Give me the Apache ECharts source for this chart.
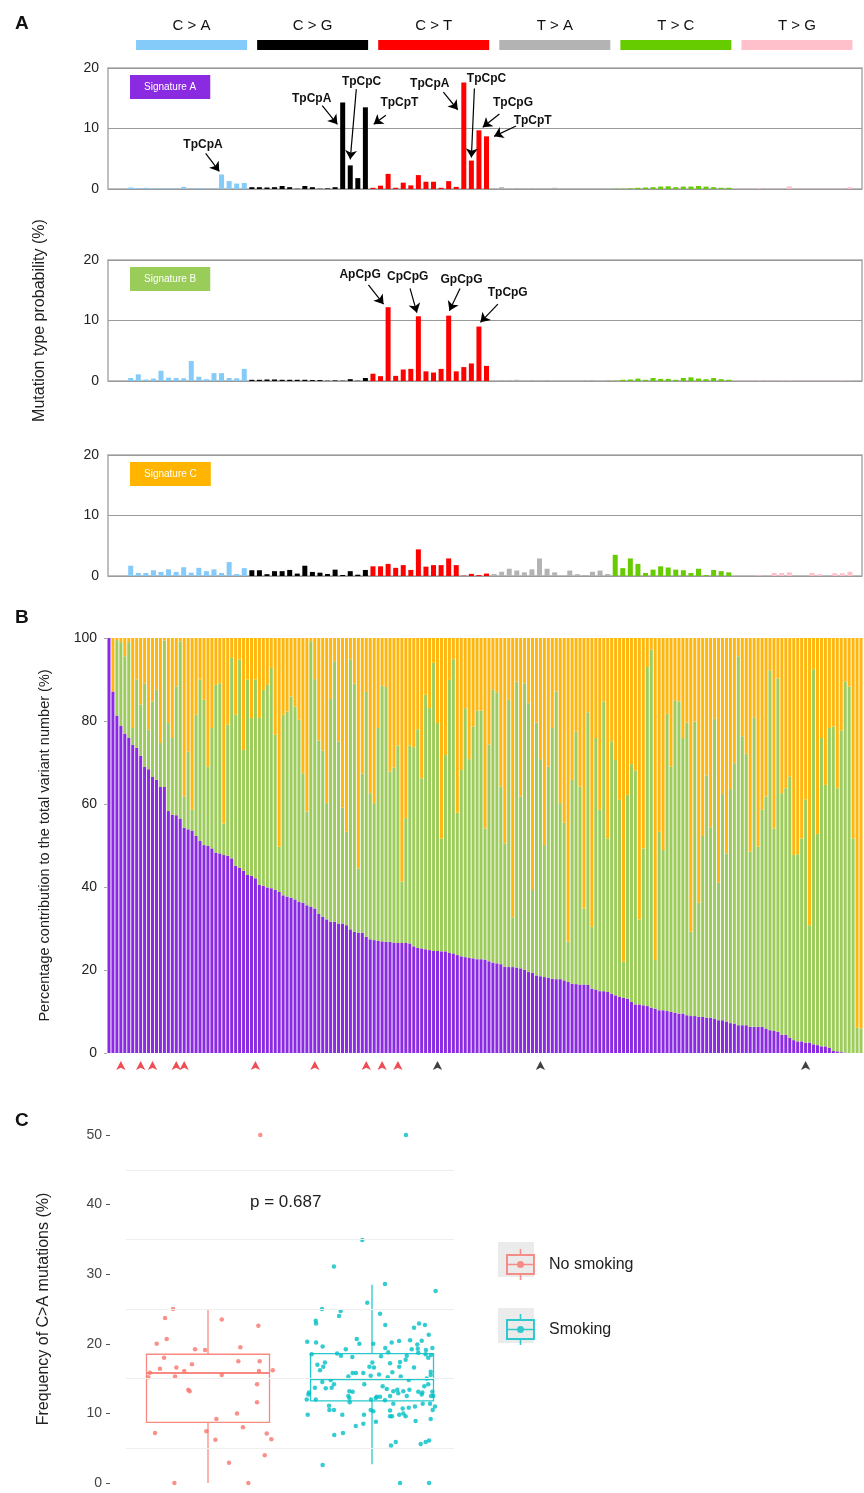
<!DOCTYPE html>
<html><head><meta charset="utf-8">
<script src="https://cdn.jsdelivr.net/npm/echarts@6/dist/echarts.min.js"></script>
<style>html,body{margin:0;padding:0;background:#fff}#c{width:864px;height:1493px}</style>
</head><body><div id="c"></div>
<script>
// ---------------- DATA ----------------
const mutationTypes = ['C > A','C > G','C > T','T > A','T > C','T > G'];
const typeColors = ['#84cbfa','#000000','#ff0000','#b3b3b3','#66cc00','#ffc0cb'];

// Panel A: 96 trinucleotide contexts per signature (%), 16 per mutation type
const sigA = [
0.25,0.15,0.2,0.1,0.1,0.1,0.05,0.35,0.05,0.15,0.05,0.1,2.4,1.3,0.9,1.0,
0.3,0.3,0.25,0.3,0.5,0.3,0.05,0.5,0.3,0.05,0.1,0.3,14.3,3.9,1.8,13.5,
0.2,0.55,2.5,0.2,1.05,0.6,2.3,1.2,1.2,0.2,1.3,0.35,17.6,4.7,9.7,8.7,
0.1,0.3,0.05,0.15,0.05,0.1,0.05,0.05,0.2,0.05,0.05,0.05,0.05,0.05,0.05,0.05,
0.05,0.05,0.1,0.2,0.25,0.3,0.4,0.45,0.3,0.4,0.4,0.5,0.4,0.3,0.2,0.2,
0.05,0.05,0.05,0.15,0.05,0.05,0.05,0.45,0.05,0.05,0.05,0.05,0.05,0.05,0.05,0.3];
const sigB = [
0.5,1.1,0.25,0.4,1.7,0.55,0.5,0.45,3.3,0.7,0.3,1.3,1.3,0.5,0.45,2.0,
0.2,0.2,0.25,0.25,0.2,0.2,0.2,0.2,0.15,0.15,0.05,0.1,0.05,0.3,0.05,0.5,
1.2,0.8,12.2,0.85,1.9,2.0,10.7,1.6,1.4,2.0,10.8,1.6,2.3,2.9,9.0,2.5,
0.05,0.15,0.15,0.2,0.05,0.15,0.05,0.15,0.05,0.05,0.05,0.05,0.15,0.15,0.05,0.15,
0.05,0.2,0.25,0.4,0.2,0.5,0.35,0.35,0.2,0.5,0.6,0.4,0.3,0.5,0.3,0.2,
0.05,0.05,0.05,0.1,0.05,0.05,0.1,0.1,0.05,0.05,0.05,0.05,0.05,0.05,0.1,0.05];
const sigC = [
1.7,0.5,0.5,0.95,0.67,1.1,0.67,1.45,0.55,1.35,0.8,1.1,0.5,2.3,0.33,1.3,
0.95,0.95,0.3,0.8,0.8,1.0,0.4,1.7,0.67,0.55,0.33,1.05,0.17,0.8,0.22,1.0,
1.6,1.6,2.0,1.35,1.8,1.0,4.4,1.55,1.8,1.8,2.9,1.8,0.05,0.35,0.15,0.4,
0.33,0.7,1.2,0.9,0.6,1.1,2.9,1.2,0.6,0,0.9,0.3,0.17,0.7,0.9,0.33,
3.5,1.3,2.9,2.0,0.5,1.05,1.6,1.4,1.05,0.95,0.5,1.2,0.15,1.0,0.8,0.6,
0,0,0,0.1,0,0.5,0.5,0.6,0,0,0.5,0.3,0,0.45,0.45,0.7];

// Annotations (data coordinates: context index, %)
const annotA = [
 {t:'TpCpA', tx:9.55, ty:7.4, x1:9.9, y1:5.9, x2:11.7, y2:2.9},
 {t:'TpCpA', tx:23.9, ty:15.0, x1:25.3, y1:13.8, x2:27.3, y2:10.7},
 {t:'TpCpC', tx:30.5, ty:17.8, x1:29.8, y1:16.5, x2:29.0, y2:4.9},
 {t:'TpCpT', tx:35.5, ty:14.2, x1:33.7, y1:12.2, x2:32.1, y2:10.7},
 {t:'TpCpA', tx:39.5, ty:17.4, x1:41.3, y1:16.0, x2:43.2, y2:13.1},
 {t:'TpCpC', tx:47.0, ty:18.2, x1:45.4, y1:16.6, x2:45.0, y2:5.2},
 {t:'TpCpG', tx:50.5, ty:14.3, x1:48.7, y1:12.4, x2:46.5, y2:10.2},
 {t:'TpCpT', tx:53.1, ty:11.3, x1:50.9, y1:10.4, x2:48.0, y2:8.7}];
const annotB = [
 {t:'ApCpG', tx:30.3, ty:17.5, x1:31.4, y1:15.9, x2:33.4, y2:12.7},
 {t:'CpCpG', tx:36.6, ty:17.2, x1:36.9, y1:15.3, x2:37.8, y2:11.3},
 {t:'GpCpG', tx:43.7, ty:16.8, x1:43.5, y1:15.3, x2:42.1, y2:11.6},
 {t:'TpCpG', tx:49.8, ty:14.6, x1:48.5, y1:12.7, x2:46.2, y2:9.7}];

// Panel B: per-sample boundaries (%): top of Signature A, top of Signature A+B
const contribA = [100,87.1,81.3,78.8,76.9,75.9,74.2,73.5,71.6,68.9,68.4,66.5,65.8,64.1,64.1,58.3,57.4,57.3,56.5,54.3,53.9,53.6,52.3,51.1,50.1,49.9,49.3,48.3,48.1,47.7,47.5,46.9,45.1,44.6,43.9,42.9,42.7,42.1,40.5,40.3,39.9,39.7,39.3,38.8,
38.0,37.7,37.4,37.0,36.4,36.2,35.6,35.2,34.8,33.5,32.8,32.2,31.6,31.6,31.2,31.2,30.8,29.8,29.2,29.0,29.0,28.0,27.4,27.2,27.0,26.9,26.8,26.8,26.6,26.5,26.5,26.5,26.4,25.7,25.3,25.2,25.0,24.8,24.6,24.6,24.5,24.5,24.1,24.0,23.6,23.3,23.1,22.9,22.8,22.6,22.6,22.5,22.1,21.8,21.6,21.4,20.8,20.7,20.7,20.6,20.4,20.0,19.5,19.3,18.7,18.5,18.3,18.1,17.9,17.8,17.8,17.5,17.1,
16.7,16.6,16.5,16.5,16.4,15.5,15.3,14.9,14.9,14.7,14.3,13.9,13.5,13.3,13.1,12.3,11.7,11.7,11.5,11.3,10.9,10.7,10.3,10.3,10.1,9.9,9.7,9.5,9.5,9.1,8.9,8.9,8.7,8.7,8.5,8.5,8.3,7.9,7.9,7.6,7.2,7.1,6.7,6.7,6.7,6.3,6.3,6.3,6.3,5.9,5.5,5.3,5.1,4.4,4.4,3.7,3.1,2.8,2.8,2.5,2.5,2.1,1.9,1.6,1.6,1.2,0.5,0.4,0.2,0.1,0,0,0,0];
const contribAB = [100,87.1,99.5,99,95.6,99,78.3,90,84,89,77.9,84.7,87.5,74.7,99.4,79.5,75.9,88.3,99.2,61.8,72.6,58.6,81.5,90,85.1,69,78.3,88.7,89.1,55.3,79.1,95.2,81.5,94.8,73,90,80.7,90,80.7,87.5,88.7,92.8,76.7,49.7,
81.5,82.3,85.9,83.5,80.3,67.4,58.2,99.2,90.1,75.3,72.9,60.2,85.3,94.4,75.1,59.1,53.3,94.9,89,44.5,67.3,87,62.6,60.2,78.3,88.5,88.2,67.8,68.8,74.1,41.3,56.6,74.1,73.7,78,66.2,86.3,83.1,94,79.5,51.7,71.8,89.9,94.9,57.9,68.2,83.1,70.8,78.7,82.5,82.5,54.1,74.3,87.5,86.9,64.2,50.5,85.1,32.7,89.5,61.8,89.1,84.3,39.3,79.6,70.8,50.1,69,78.3,87.1,60.2,55.5,26.8,
65.8,77.5,64.2,34.8,82.1,30.4,75.9,58.6,84.7,51.7,75.1,70.6,61,22,62.2,69.6,68.1,32.2,49.3,93,97.2,22.4,53.3,48.9,81.7,69,85,84.7,75.9,79.6,29.2,79.9,36.2,52.3,66.9,54.4,80.5,41,62.4,48.1,63.6,69.8,95.6,76.3,72.1,48.5,80.9,49.7,58.6,61.8,92.2,54.1,90.3,62.6,63.8,66.6,47.7,47.9,51.7,61.1,30.8,92.5,52.8,75.9,64.6,78.3,78.7,63.8,77.7,89.5,88.3,51.7,6.1,5.9];
const redMarks = [3,8,11,17,19,37,52,65,69,73];
const blackMarks = [83,109,176];

// Panel C
const groups = ['No smoking','Smoking'];
const noSmokingBox = [0, 8.7, 15.8, 18.5, 25];   // min, Q1, median, Q3, max
const smokingBox = [2.7, 11.8, 14.9, 18.6, 28.5];
const noSmokingJitter = [0.319,-0.213,-0.262,0.084,-0.252,0.307,-0.313,-0.268,-0.079,-0.018,0.197,-0.098,0.185,0.315,-0.293,-0.193,-0.145,0.311,0.395,-0.364,-0.354,-0.201,0.084,-0.120,-0.112,0.299,0.299,0.177,0.051,-0.323,-0.010,0.213,0.358,0.386,0.045,0.346,0.128,-0.205,0.246];
const noSmokingFreq = [50,25,23.7,23.5,20.7,22.6,20,18,19.2,19.1,19.5,17.05,17.5,17.5,16.4,16.6,16.1,16.1,16.2,15.2,15.85,15.3,15.5,13.4,13.2,14.2,11.6,10,9.2,7.2,7.45,8,7.1,6.3,6.2,4,2.9,0,0];
const smokingJitter = [1.207,0.941,0.768,1.079,1.388,0.971,0.695,0.809,0.799,1.049,0.657,0.659,1.081,1.256,1.287,1.323,0.907,1.346,0.605,0.659,0.923,1.008,1.120,1.165,1.232,1.303,1.276,0.699,0.840,1.368,1.081,1.242,1.279,0.787,0.632,1.099,1.329,1.327,1.360,0.811,0.880,1.055,1.212,1.282,1.205,1.343,0.667,0.713,0.703,0.683,1.002,1.110,1.171,1.166,0.984,1.012,1.256,1.358,1.358,0.882,0.902,0.947,1.043,1.124,0.992,0.856,1.096,1.175,1.224,1.334,0.697,0.748,1.343,0.953,0.768,0.652,0.718,0.754,1.065,1.090,1.130,1.154,1.191,1.228,1.282,1.319,0.862,0.882,0.616,0.612,1.160,1.307,1.368,0.856,0.862,1.029,1.049,1.110,1.212,1.303,1.360,1.374,0.602,0.657,0.994,1.023,1.079,1.354,1.309,0.738,0.864,1.130,1.224,1.384,0.740,0.768,0.992,1.008,1.110,1.187,1.262,1.370,0.608,0.819,0.951,1.110,1.122,1.166,1.191,1.205,1.358,1.024,0.901,0.947,1.266,0.823,0.770,1.145,1.116,1.297,1.327,1.348,0.699,1.171,1.348];
const smokingFreq = [50,34.9,31.1,28.6,27.6,25.9,25,24.7,24,24.3,23.3,22.9,22.7,22.3,22.9,22.7,20.7,21.3,20.3,20.2,20,20,20.2,20.4,20.5,20.45,19.9,19.6,19.2,19.4,19.4,19.2,19.3,18.6,18.5,18.8,19.1,18.5,18.4,18.3,18.1,18.2,18.3,18.7,17.7,18,17,17.3,16.7,16.2,17.3,17.2,17.4,16.7,16.7,16.6,16.6,16,15.5,15.8,15.8,15.8,15.6,15.9,15.4,15.3,15.2,15.3,14.8,15,14.5,14.8,14.2,14.2,14.2,13.7,13.6,13.7,13.9,13.5,13.2,13.4,13.2,13.4,13.1,13.9,13.2,13.1,13,12.7,12.9,13,13.1,12.5,12.2,12.4,12.4,12.5,12.5,12.7,12.5,12.5,12,12,12,12.2,11.9,11.4,11.4,11.1,11.6,11.4,10.8,11,10.5,10.5,10.5,10.3,10.4,10.7,11,10.5,9.8,9.8,9.8,9.6,9.6,9.8,10,9.6,9.2,8.8,8.2,8.5,8.9,7.2,6.9,5.9,5.4,5.6,5.9,6.1,2.6,0,0];
const minorGridC = [5,15,25,35,45];
const pValueText = 'p = 0.687';

// ---------------- OPTION ----------------
const FONT = 'Liberation Sans, Arial, sans-serif';
const NARROW = 'Liberation Sans Narrow, Liberation Sans, Arial, sans-serif';
const groupColors = ['#F8766D','#00BFC4'];
const sigBoxColors = ['#8a2be2','#9acc5a','#ffb400'];
const stackColors = ['#8a2be2','#9dcc5c','#ffb60f'];

function sigSeries(vals, idx, annots){
  const s = {
    type:'bar', xAxisIndex:idx, yAxisIndex:idx, barWidth:5, silent:true,
    data: vals.map((v,i)=>({value:[i,v], itemStyle:{color:typeColors[Math.floor(i/16)]}}))
  };
  if (annots){
    s.markPoint = {symbol:'circle', symbolSize:1, itemStyle:{color:'rgba(0,0,0,0)'}, silent:true,
      label:{show:true, position:'inside', formatter:p=>p.name, color:'#111', fontSize:12, fontWeight:'bold', fontFamily:NARROW},
      data: annots.map(a=>({name:a.t, coord:[a.tx,a.ty]}))};
    s.markLine = {silent:true, symbol:['none','arrow'], symbolSize:9, label:{show:false},
      lineStyle:{color:'#000', width:1.2, type:'solid'}, itemStyle:{color:'#000'},
      data: annots.map(a=>[{coord:[a.x1,a.y1]},{coord:[a.x2,a.y2]}])};
  }
  return s;
}

const sigTops = [68,260,455];
const grids = sigTops.map(t=>({left:108, right:2, top:t, height:121, show:true, borderColor:'#aaa', borderWidth:1.5}));
grids.push({left:131, width:726.5, top:40, height:10});
grids.push({left:107, right:1, top:638, height:415});
grids.push({left:107, right:1, top:1056, height:10});
grids.push({left:126, width:328, top:1135, height:348});

const nB = Math.min(contribA.length, contribAB.length);
const sampleIdx = Array.from({length:nB}, (_,i)=>i);

const xAxes = [0,1,2].map(i=>({type:'value', gridIndex:i, min:-3, max:96.6, show:false}));
xAxes.push({type:'category', gridIndex:3, data:mutationTypes, show:false});
xAxes.push({type:'category', gridIndex:4, data:sampleIdx, show:false});
xAxes.push({type:'category', gridIndex:5, data:sampleIdx, show:false});
xAxes.push({type:'category', gridIndex:6, data:groups, show:false});
xAxes.push({type:'value', gridIndex:6, min:-0.5, max:1.5, show:false});

const yAxes = [0,1,2].map(i=>({type:'value', gridIndex:i, min:0, max:20, interval:10,
  axisLabel:{fontSize:14, color:'#222', margin:9, fontFamily:FONT},
  splitLine:{lineStyle:{color:'#9a9a9a', width:1}}, axisLine:{show:false, onZero:false}, axisTick:{show:false}}));
yAxes[1].name = 'Mutation type probability (%)';
yAxes[1].nameLocation = 'middle'; yAxes[1].nameGap = 60;
yAxes[1].nameTextStyle = {fontSize:16, color:'#222', fontFamily:FONT};
yAxes.push({type:'value', gridIndex:3, min:0, max:1, show:false});
yAxes.push({type:'value', gridIndex:4, min:0, max:100, interval:20,
  axisLabel:{fontSize:14, color:'#222', margin:10, fontFamily:FONT},
  axisTick:{show:true, length:3, lineStyle:{color:'#aaa'}}, axisLine:{show:false}, splitLine:{show:false},
  name:'Percentage contribution to the total variant number (%)', nameLocation:'middle', nameGap:55,
  nameTextStyle:{fontSize:14.5, color:'#222', fontFamily:FONT}});
yAxes.push({type:'value', gridIndex:5, min:0, max:1, show:false});
yAxes.push({type:'value', gridIndex:6, min:0, max:50, interval:10, offset:16,
  axisLabel:{fontSize:14, color:'#444', margin:8, fontFamily:FONT},
  axisTick:{show:true, length:4, lineStyle:{color:'#555'}},
  axisLine:{show:false, onZero:false}, splitLine:{show:false},
  name:'Frequency of C>A mutations (%)', nameLocation:'middle', nameGap:58,
  nameTextStyle:{fontSize:16, color:'#222', fontFamily:FONT}});

const series = [
  sigSeries(sigA, 0, annotA),
  sigSeries(sigB, 1, annotB),
  sigSeries(sigC, 2, null),
  {type:'bar', xAxisIndex:3, yAxisIndex:3, barWidth:111, silent:true,
   data: mutationTypes.map((m,i)=>({value:1, itemStyle:{color:typeColors[i]}})),
   label:{show:true, position:'top', distance:7, formatter:'{b}', fontSize:15, color:'#111', fontFamily:FONT}},
  {type:'bar', name:'Signature A', xAxisIndex:4, yAxisIndex:4, stack:'sig', barCategoryGap:'24%', silent:true,
   itemStyle:{color:stackColors[0]}, data: sampleIdx.map(i=>contribA[i])},
  {type:'bar', name:'Signature B', xAxisIndex:4, yAxisIndex:4, stack:'sig', silent:true,
   itemStyle:{color:stackColors[1]}, data: sampleIdx.map(i=>Math.max(0, contribAB[i]-contribA[i]))},
  {type:'bar', name:'Signature C', xAxisIndex:4, yAxisIndex:4, stack:'sig', silent:true,
   itemStyle:{color:stackColors[2]}, data: sampleIdx.map(i=>Math.max(0, 100-contribAB[i]))},
  {type:'scatter', xAxisIndex:5, yAxisIndex:5, symbol:'arrow', symbolSize:[7,9], silent:true,
   data: redMarks.map(i=>({value:[i,0.5], itemStyle:{color:'#e8202a'}}))
     .concat(blackMarks.map(i=>({value:[i,0.5], itemStyle:{color:'#111'}})))},
  {type:'custom', name:'box', xAxisIndex:6, yAxisIndex:6, silent:true, clip:false,
   encode:{x:0, y:[1,2,3,4,5]},
   data:[[0].concat(noSmokingBox), [1].concat(smokingBox)],
   renderItem:(params, api)=>{
     const c = api.value(0);
     const lo = api.coord([c, api.value(1)]), q1 = api.coord([c, api.value(2)]),
           md = api.coord([c, api.value(3)]), q3 = api.coord([c, api.value(4)]), hi = api.coord([c, api.value(5)]);
     const w = api.size([1,0])[0]*0.75, x = lo[0], col = groupColors[c];
     const st = {stroke:col, lineWidth:1.3, opacity:0.85};
     return {type:'group', children:[
       {type:'line', shape:{x1:x,y1:hi[1],x2:x,y2:q3[1]}, style:st},
       {type:'line', shape:{x1:x,y1:q1[1],x2:x,y2:lo[1]}, style:st},
       {type:'rect', shape:{x:x-w/2,y:q3[1],width:w,height:q1[1]-q3[1]}, style:Object.assign({fill:'#fff'}, st)},
       {type:'line', shape:{x1:x-w/2,y1:md[1],x2:x+w/2,y2:md[1]}, style:{stroke:col, lineWidth:2, opacity:0.85}}
     ]};
   },
   markLine:{silent:true, symbol:'none', label:{show:false}, lineStyle:{color:'#efefef', width:1, type:'solid'},
     data:minorGridC.map(v=>({yAxis:v}))}, z:1},
  {type:'scatter', name:groups[0], xAxisIndex:7, yAxisIndex:6, symbolSize:4.5, clip:false, silent:true, z:3,
   itemStyle:{color:groupColors[0]}, data: noSmokingFreq.map((v,i)=>[noSmokingJitter[i], v])},
  {type:'scatter', name:groups[1], xAxisIndex:7, yAxisIndex:6, symbolSize:4.5, clip:false, silent:true, z:3,
   itemStyle:{color:groupColors[1]}, data: smokingFreq.map((v,i)=>[smokingJitter[i], v])}
];

const glyph = 'path://M0,5 H29 V26 H0 Z M2,7 V24 H27 V7 Z M2,14.7 H27 V16.3 H2 Z M13.7,0 H15.3 V5 H13.7 Z M13.7,26 H15.3 V31 H13.7 Z M18,15.5 A3.5,3.5 0 1,1 11,15.5 A3.5,3.5 0 1,1 18,15.5 Z';

const option = {
  animation:false,
  backgroundColor:'#fff',
  textStyle:{fontFamily:FONT},
  title:[
    {text:'A', left:10, top:9, textStyle:{fontSize:19, fontWeight:'bold', color:'#111', fontFamily:FONT}},
    {text:'B', left:10, top:603, textStyle:{fontSize:19, fontWeight:'bold', color:'#111', fontFamily:FONT}},
    {text:'C', left:10, top:1106, textStyle:{fontSize:19, fontWeight:'bold', color:'#111', fontFamily:FONT}},
    {text:'Signature A', left:130, top:75, padding:[7,14], backgroundColor:sigBoxColors[0], textStyle:{color:'#fff', fontSize:10, fontWeight:'normal', fontFamily:FONT}},
    {text:'Signature B', left:130, top:267, padding:[7,14], backgroundColor:sigBoxColors[1], textStyle:{color:'#fff', fontSize:10, fontWeight:'normal', fontFamily:FONT}},
    {text:'Signature C', left:130, top:462, padding:[7,14], backgroundColor:sigBoxColors[2], textStyle:{color:'#fff', fontSize:10, fontWeight:'normal', fontFamily:FONT}},
    {text:pValueText, left:245, top:1189, textStyle:{fontSize:17, fontWeight:'normal', color:'#222', fontFamily:FONT}}
  ],
  legend:{orient:'vertical', left:501, top:1244, itemWidth:29, itemHeight:31, itemGap:34, selectedMode:false,
    data:[{name:groups[0], icon:glyph, itemStyle:{color:groupColors[0], borderWidth:0}},
          {name:groups[1], icon:glyph, itemStyle:{color:groupColors[1], borderWidth:0}}],
    textStyle:{fontSize:16, color:'#222', padding:[0,0,0,9], fontFamily:FONT}},
  graphic:[
    {type:'rect', left:498, top:1242, shape:{width:36,height:35}, style:{fill:'#ebebeb'}, z:0},
    {type:'rect', left:498, top:1308, shape:{width:36,height:35}, style:{fill:'#ebebeb'}, z:0}
  ],
  grid:grids, xAxis:xAxes, yAxis:yAxes, series:series
};
const chart = echarts.init(document.getElementById('c'));
chart.setOption(option);
</script></body></html>
